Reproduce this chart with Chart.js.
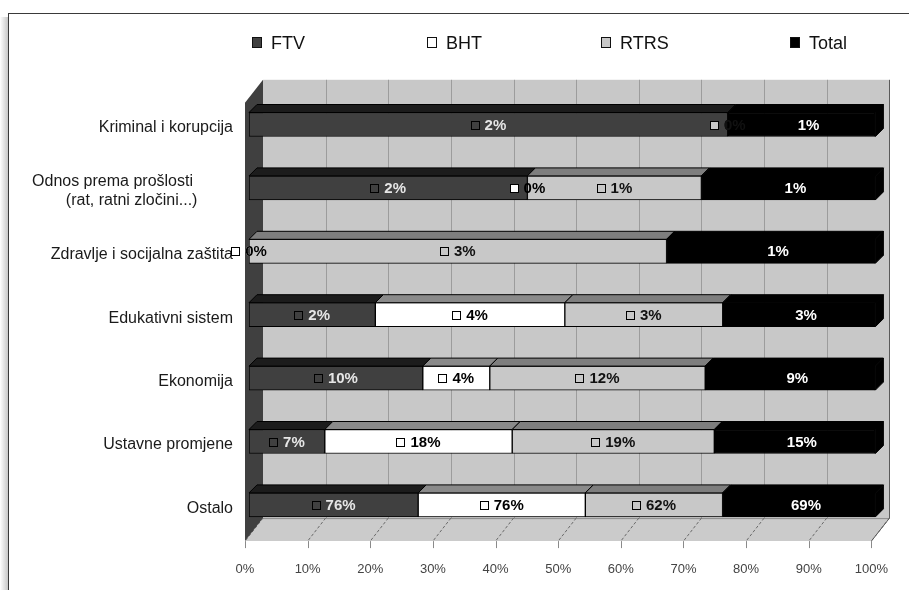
<!DOCTYPE html>
<html><head><meta charset="utf-8">
<script src="https://cdn.jsdelivr.net/npm/chart.js@4.4.1/dist/chart.umd.min.js"></script>
<style>
html,body{margin:0;padding:0;background:#fff;width:909px;height:590px;overflow:hidden;font-family:"Liberation Sans",Arial,sans-serif;}
#frame{position:absolute;left:8px;top:13px;width:1000px;height:700px;border-left:1px solid #3a3a3a;border-top:1px solid #3a3a3a;}
#shadow{position:absolute;left:0;top:17px;width:8px;height:600px;background:linear-gradient(to right,rgba(0,0,0,0),rgba(0,0,0,0.22));}
#c{position:absolute;left:0;top:0;}
.lg{position:absolute;top:33px;height:20px;font-size:18px;line-height:20px;color:#111;white-space:nowrap;}
.lg i{position:absolute;left:0;top:4px;width:10px;height:11px;border:1px solid #111;box-sizing:border-box;}
</style></head>
<body>
<div id="shadow"></div><div id="frame"></div>
<canvas id="c" width="909" height="590"></canvas>
<div id="legend"></div>
<script>
// ---- data ----
const categories = [
  'Kriminal i korupcija',
  ['Odnos prema prošlosti         ', '(rat, ratni zločini...)        '],
  'Zdravlje i socijalna zaštita',
  'Edukativni sistem',
  'Ekonomija',
  'Ustavne promjene',
  'Ostalo'
];
const seriesNames = ['FTV', 'BHT', 'RTRS', 'Total'];
const ftv   = [2.4, 1.6, 0,   2.4, 9.6, 7.2,  76.4];
const bht   = [0,   0,   0,   3.6, 3.7, 17.8, 75.5];
const rtrs  = [0,   1.0, 2.6, 3.0, 11.9, 19.2, 62.0];
const total = [0.74, 1.0, 1.3, 2.9, 9.4, 15.3, 69.0];
const xTickValues = [0, 10, 20, 30, 40, 50, 60, 70, 80, 90, 100];

// ---- styles ----
const frontColors = ['#404040', '#ffffff', '#c8c8c8', '#000000'];
const topColors   = ['#1c1c1c', '#8a8a8a', '#7e7e7e', '#000000'];
const sideColors  = ['#1c1c1c', '#8a8a8a', '#7e7e7e', '#000000'];
const labelColors = ['#e6e6e6', '#000000', '#111111', '#ffffff'];
const legendX = [252, 427, 601, 790];

const seriesValues = [ftv, bht, rtrs, total];
const rowSums = categories.map((c, j) => seriesValues.reduce((s, arr) => s + arr[j], 0));
const shares = seriesValues.map(arr => arr.map((v, j) => v / rowSums[j] * 100));

// HTML legend
const lg = document.getElementById('legend');
seriesNames.forEach((n, i) => {
  const d = document.createElement('div');
  d.className = 'lg';
  d.style.left = legendX[i] + 'px';
  d.style.paddingLeft = '19px';
  d.innerHTML = '<i style="background:' + frontColors[i] + '"></i>' + n;
  lg.appendChild(d);
});

const BDX = 8, BDY = 8;      // bar depth
const FDX = 18, FDY = 23;    // floor depth

const threeD = {
  id: 'threeD',
  beforeDatasetsDraw(chart) {
    const {ctx, chartArea: ca} = chart;
    const x = chart.scales.x;
    const fy = ca.bottom + 4.5, by = fy - FDY;
    const wallTop = ca.top - 13;
    const fx = v => x.getPixelForValue(v) - 4;
    const bx = v => fx(v) + FDX;
    ctx.save();
    // back wall
    ctx.fillStyle = '#c8c8c8';
    ctx.fillRect(bx(0), wallTop, bx(100) - bx(0), by - wallTop);
    // floor
    ctx.beginPath();
    ctx.moveTo(fx(0), fy); ctx.lineTo(bx(0), by); ctx.lineTo(bx(100), by); ctx.lineTo(fx(100), fy); ctx.closePath();
    ctx.fillStyle = '#cbcbcb'; ctx.fill();
    ctx.strokeStyle = '#8c8c8c'; ctx.lineWidth = 1;
    ctx.beginPath(); ctx.moveTo(bx(0), by + 0.5); ctx.lineTo(bx(100), by + 0.5); ctx.stroke();
    // grid lines
    x.ticks.forEach(t => {
      const v = t.value;
      if (v > 0 && v < 100) {
        ctx.strokeStyle = '#9c9c9c';
        ctx.setLineDash([]);
        ctx.beginPath(); ctx.moveTo(Math.round(bx(v)) + 0.5, wallTop); ctx.lineTo(Math.round(bx(v)) + 0.5, by); ctx.stroke();
      }
      ctx.strokeStyle = '#6a6a6a';
      ctx.setLineDash([3, 2]);
      ctx.beginPath(); ctx.moveTo(bx(v), by); ctx.lineTo(fx(v), fy); ctx.stroke();
      ctx.setLineDash([]);
      ctx.strokeStyle = '#8a8a8a';
      ctx.beginPath(); ctx.moveTo(Math.round(fx(v)) + 0.5, fy); ctx.lineTo(Math.round(fx(v)) + 0.5, fy + 7); ctx.stroke();
    });
    // right edge
    ctx.strokeStyle = '#5a5a5a';
    ctx.beginPath(); ctx.moveTo(Math.round(bx(100)) + 0.5, wallTop); ctx.lineTo(Math.round(bx(100)) + 0.5, by); ctx.lineTo(fx(100), fy); ctx.stroke();
    // left wall
    ctx.beginPath();
    ctx.moveTo(fx(0), fy); ctx.lineTo(bx(0), by); ctx.lineTo(bx(0), wallTop); ctx.lineTo(fx(0), wallTop + FDY); ctx.closePath();
    ctx.fillStyle = '#404040'; ctx.fill();
    ctx.restore();
  },
  afterDatasetsDraw(chart) {
    const ctx = chart.ctx;
    const metas = chart.data.datasets.map((d, i) => chart.getDatasetMeta(i));
    const n = chart.data.labels.length;
    ctx.save();
    for (let j = 0; j < n; j++) {
      let last = null;
      metas.forEach((m, i) => {
        const el = m.data[j].getProps(['x', 'y', 'base', 'height'], true);
        const x0 = Math.min(el.base, el.x), x1 = Math.max(el.base, el.x);
        const t = el.y - el.height / 2, b = el.y + el.height / 2;
        if (x1 - x0 < 0.5) return;
        ctx.beginPath();
        ctx.moveTo(x0, t); ctx.lineTo(x0 + BDX, t - BDY); ctx.lineTo(x1 + BDX, t - BDY); ctx.lineTo(x1, t); ctx.closePath();
        ctx.fillStyle = topColors[i]; ctx.fill();
        ctx.strokeStyle = '#000'; ctx.lineWidth = 1; ctx.stroke();
        last = {x1, t, b, i};
      });
      if (last) {
        const {x1, t, b, i} = last;
        ctx.beginPath();
        ctx.moveTo(x1, t); ctx.lineTo(x1 + BDX, t - BDY); ctx.lineTo(x1 + BDX, b - BDY); ctx.lineTo(x1, b); ctx.closePath();
        ctx.fillStyle = sideColors[i]; ctx.fill();
        ctx.strokeStyle = '#000'; ctx.stroke();
      }
    }
    // data labels
    ctx.font = 'bold 15px "Liberation Sans", Arial, sans-serif';
    ctx.textBaseline = 'middle';
    ctx.textAlign = 'left';
    metas.forEach((m, i) => {
      const raw = chart.data.datasets[i].raw;
      m.data.forEach((elm, j) => {
        const el = elm.getProps(['x', 'y', 'base'], true);
        const cx = (el.x + el.base) / 2;
        const txt = Math.round(raw[j]) + '%';
        const tw = ctx.measureText(txt).width;
        const W = 8 + 6 + tw;
        const s = cx - W / 2;
        ctx.fillStyle = frontColors[i];
        ctx.fillRect(Math.round(s) + 0.5, Math.round(el.y - 4) + 0.5, 8, 8);
        ctx.strokeStyle = '#000'; ctx.lineWidth = 1;
        ctx.strokeRect(Math.round(s) + 0.5, Math.round(el.y - 4) + 0.5, 8, 8);
        ctx.fillStyle = labelColors[i];
        ctx.fillText(txt, s + 14, el.y + 1);
      });
    });
    ctx.restore();
  }
};

new Chart(document.getElementById('c'), {
  type: 'bar',
  data: {
    labels: categories,
    datasets: seriesNames.map((name, i) => ({
      label: name,
      data: shares[i],
      raw: seriesValues[i],
      backgroundColor: frontColors[i],
      borderColor: '#000',
      borderWidth: 1,
      borderSkipped: false,
      barThickness: 24
    }))
  },
  options: {
    indexAxis: 'y',
    responsive: false,
    animation: false,
    events: [],
    devicePixelRatio: 1,
    layout: {padding: {top: 92.8, right: 31, bottom: 0, left: 0}},
    plugins: {legend: {display: false}, tooltip: {enabled: false}},
    scales: {
      x: {
        stacked: true, min: 0, max: 100,
        afterBuildTicks(scale) { scale.ticks = xTickValues.map(v => ({value: v})); },
        afterFit(scale) { scale.height = 53.4; },
        grid: {display: false},
        border: {display: false},
        ticks: {
          callback: v => v + '%',
          font: {family: '"Liberation Sans", Arial, sans-serif', size: 13},
          color: '#444',
          padding: 17,
          labelOffset: -4,
          maxRotation: 0,
          autoSkip: false
        }
      },
      y: {
        stacked: true,
        afterFit(scale) { scale.width = 249; },
        grid: {display: false, drawTicks: false},
        border: {display: false},
        ticks: {
          font: {family: '"Liberation Sans", Arial, sans-serif', size: 16, lineHeight: 1.2},
          color: '#1a1a1a',
          padding: 16,
          labelOffset: 3.5,
          autoSkip: false
        }
      }
    }
  },
  plugins: [threeD]
});
</script>
</body></html>
